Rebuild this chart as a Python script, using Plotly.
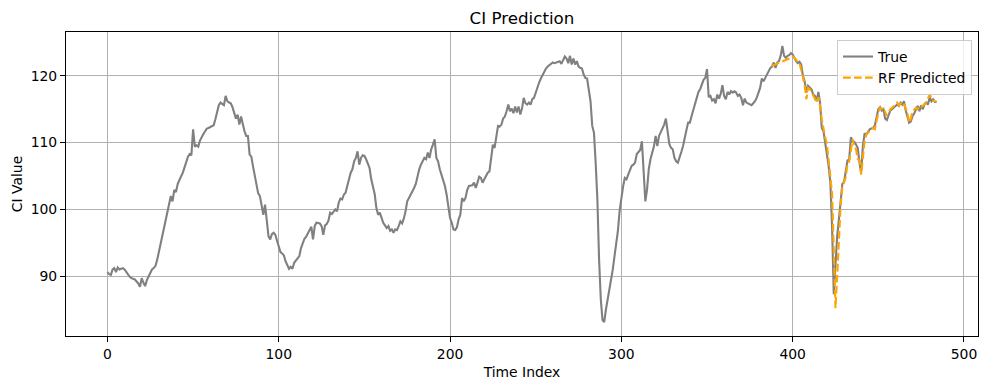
import plotly.graph_objects as go

# ---- data ----
true_values = [
    90.6, 90.3, 90.2, 91.0, 91.2, 90.6, 91.3, 91.0, 91.1, 91.2,
    91.0, 90.6, 90.1, 89.9, 89.7, 89.6, 89.5, 89.2, 88.9, 88.4,
    89.7, 89.0, 88.5, 89.4, 89.9, 90.3, 91.0, 91.2, 91.5, 92.4,
    93.6, 94.6, 96.0, 97.2, 98.4, 99.3, 100.3, 102.0, 101.2, 102.9,
    102.6, 103.8, 104.4, 104.9, 105.5, 106.3, 107.2, 107.9, 108.3, 108.1,
    112.0, 109.4, 109.6, 109.4, 110.3, 110.9, 111.3, 111.7, 112.1, 112.2,
    112.3, 112.4, 112.6, 113.5, 114.8, 115.6, 116.0, 115.8, 115.6, 117.0,
    116.2, 116.0, 115.9, 115.3, 114.4, 113.6, 114.2, 112.7, 113.9, 112.5,
    111.7, 111.0, 111.0, 108.2, 107.9, 106.4, 105.0, 103.7, 102.4, 102.0,
    100.7, 99.2, 100.7, 97.9, 96.0, 95.5, 96.3, 96.5, 96.2, 95.3,
    94.3, 93.6, 93.4, 93.1, 92.2, 91.5, 91.1, 91.4, 91.1, 92.0,
    92.4, 92.7, 93.0, 94.2, 95.0, 95.6, 95.9, 96.4, 97.0, 97.4,
    95.5, 97.5, 98.0, 97.9, 97.9, 97.5, 96.2, 97.6, 97.8, 98.3,
    99.5, 99.3, 99.6, 100.0, 99.7, 101.0, 101.6, 101.5, 102.2, 102.5,
    103.5, 104.5, 105.5, 106.0, 107.2, 107.7, 108.7, 106.7, 107.7, 108.1,
    108.0, 107.5, 106.8, 106.2, 104.5, 103.5, 102.3, 100.2, 99.2, 99.5,
    98.7, 98.0, 97.6, 97.2, 97.5, 96.8, 97.0, 96.5, 97.0, 96.9,
    97.5, 98.2, 97.9, 98.6, 99.7, 101.2, 101.7, 102.2, 102.5, 103.2,
    103.8, 105.0, 106.0, 106.7, 107.2, 107.7, 107.5, 108.5, 107.7, 109.0,
    109.7, 110.5, 107.7, 107.2, 106.0, 105.2, 104.2, 103.5, 102.2, 100.5,
    98.7, 98.0, 97.0, 96.9, 97.3, 98.5, 99.2, 101.7, 101.2, 101.7,
    102.9, 103.5, 103.5, 103.6, 104.0, 103.2, 104.0, 104.9, 104.7, 104.0,
    104.5, 105.0, 105.5, 105.7, 107.7, 109.7, 109.2, 111.0, 112.5, 112.4,
    112.7, 113.6, 113.9, 114.7, 115.7, 114.7, 115.1, 114.4, 115.4, 114.5,
    115.4, 114.2, 115.1, 116.7, 115.9, 115.7, 116.0, 115.7, 116.5, 116.7,
    117.5, 118.5, 119.0, 119.6, 120.1, 120.7, 121.1, 121.4, 121.6, 121.7,
    122.0, 121.9, 122.0, 122.0, 122.2, 121.8, 122.5, 122.9, 122.6, 121.9,
    123.0, 121.7, 122.6, 121.7, 122.2, 121.4, 121.2, 121.1, 120.2, 119.7,
    119.6, 117.5, 116.2, 112.5, 111.5, 107.0, 101.5, 92.5, 86.5, 83.4,
    83.1, 85.0, 86.4, 88.0, 89.0, 91.0, 93.0, 95.0, 96.8, 99.8,
    102.0, 103.4, 104.7, 104.5, 105.2, 106.0, 106.5, 106.7, 107.0, 108.3,
    108.7, 108.9, 110.2, 106.5, 101.2, 103.0, 106.0, 107.5, 108.5, 109.4,
    111.0, 109.5, 111.0, 111.6, 112.0, 112.7, 113.6, 111.8, 109.8, 109.2,
    109.0, 107.7, 107.2, 107.0, 108.0, 108.6, 109.5, 111.0, 111.9, 113.0,
    113.0, 114.0, 114.9, 115.6, 116.5, 117.6, 118.0, 118.8, 119.4, 119.7,
    121.0, 116.8, 117.0, 116.3, 116.5, 115.9, 117.2, 116.6, 117.3, 118.6,
    117.0, 116.5, 117.6, 117.2, 117.7, 117.5, 117.7, 117.5, 117.0, 117.2,
    116.7, 115.6, 116.6, 116.0, 115.9, 115.7, 115.6, 115.9, 116.2, 116.7,
    117.5, 118.2, 119.6, 119.2, 119.7, 120.2, 120.5, 121.2, 121.4, 122.0,
    121.2, 122.0, 122.2, 123.0, 124.5, 123.0, 122.7, 123.0, 123.1, 123.4,
    123.2, 122.6, 122.2, 121.9, 122.1, 121.7, 120.0, 119.2, 117.5, 118.5,
    118.2, 118.0, 117.2, 117.0, 116.2, 117.6, 116.0, 112.2, 111.7, 110.0,
    108.5, 106.5, 104.0, 97.5, 87.3, 92.0, 96.0, 98.5, 101.5, 103.8,
    104.1, 105.5, 107.3, 107.5, 110.8, 110.2, 110.1, 109.7, 109.2, 107.0,
    105.5, 109.5, 111.4, 111.2, 111.7, 112.0, 112.1, 112.2, 112.6, 113.8,
    115.0, 115.3, 114.8, 115.0, 113.6, 113.4, 114.2, 114.8, 115.0, 115.2,
    115.4, 115.7, 115.5, 116.0, 115.7, 116.2, 114.8, 113.8, 113.0, 113.2,
    114.0, 114.4, 115.0, 115.5, 114.7, 115.6, 115.0, 115.8, 116.0, 115.7,
    116.8, 116.2, 116.5, 116.1, 116.1,
]
time_index = list(range(len(true_values)))

pred_start = 388
rf_predicted = [
    121.5, 121.6,
    121.7, 121.8, 121.9, 122.0, 122.2, 122.3, 122.4, 122.5, 122.6, 122.8,
    122.9, 122.7, 122.3, 122.1, 121.9, 121.0, 119.8, 118.6, 116.5, 118.2,
    118.0, 117.6, 117.1, 116.5, 116.0, 116.8, 115.5, 113.5, 111.8, 110.8,
    109.8, 107.5, 105.0, 102.5, 94.0, 85.2, 90.0, 96.5, 100.5, 103.3,
    104.0, 104.8, 106.8, 107.2, 108.8, 110.5, 109.3, 109.0, 107.5, 107.4,
    105.2, 107.5, 110.2, 111.2, 111.5, 111.7, 112.0, 112.2, 112.0, 113.2,
    114.5, 115.2, 115.0, 115.2, 114.7, 114.0, 114.5, 115.0, 115.2, 115.5,
    115.8, 116.0, 115.6, 115.9, 116.1, 115.7, 115.2, 114.5, 113.0, 113.6,
    114.7, 115.0, 115.2, 115.0, 115.5, 115.4, 115.5, 115.7, 116.0, 116.5,
    117.2, 116.7, 116.3, 116.2, 116.2,
]
pred_index = list(range(pred_start, pred_start + len(rf_predicted)))

x_ticks = [0, 100, 200, 300, 400, 500]
y_ticks = [90, 100, 110, 120]

# matplotlib-style 5% autoscale margins
x_lo, x_hi = 0, max(time_index)
x_pad = 0.05 * (x_hi - x_lo)
all_y = true_values + rf_predicted
y_lo, y_hi = min(all_y), max(all_y)
y_pad = 0.05 * (y_hi - y_lo)

FONT = "DejaVu Sans"

fig = go.Figure()
fig.add_trace(go.Scatter(
    x=time_index, y=true_values, mode="lines", name="True",
    line=dict(color="#808080", width=2.1),
))
fig.add_trace(go.Scatter(
    x=pred_index, y=rf_predicted, mode="lines", name="RF Predicted",
    line=dict(color="#FFA500", width=2.1, dash="7.7px,3.3px"),
))

axis_common = dict(
    showgrid=True, gridcolor="#b0b0b0", gridwidth=1,
    showline=True, linecolor="black", linewidth=1.1, mirror=True,
    ticks="outside", ticklen=5, tickwidth=1.1, tickcolor="black",
    zeroline=False, automargin=False,
    tickfont=dict(family=FONT, size=13.9, color="black"),
)

fig.update_layout(
    width=988, height=390,
    margin=dict(l=66, r=10, t=32, b=54),
    paper_bgcolor="white", plot_bgcolor="white",
    font=dict(family=FONT, size=13.9, color="black"),
    title=dict(
        text="CI Prediction", x=0.5, xref="paper", xanchor="center",
        y=1 - 18 / 390, yref="container", yanchor="middle",
        font=dict(family=FONT, size=16.7, color="black"),
    ),
    xaxis=dict(
        range=[x_lo - x_pad, x_hi + x_pad], tickvals=x_ticks,
        title=dict(text="Time Index", standoff=6,
                   font=dict(family=FONT, size=13.9, color="black")),
        **axis_common,
    ),
    yaxis=dict(
        range=[y_lo - y_pad, y_hi + y_pad], tickvals=y_ticks,
        title=dict(text="CI Value", standoff=4,
                   font=dict(family=FONT, size=13.9, color="black")),
        **axis_common,
    ),
    legend=dict(
        x=1 - 6 / 912, xanchor="right", y=1 - 8 / 304, yanchor="top",
        bgcolor="rgba(255,255,255,0.8)", bordercolor="#cccccc", borderwidth=1,
        font=dict(family=FONT, size=13.9, color="black"),
        tracegroupgap=0, itemwidth=30,
    ),
    showlegend=True,
)

fig.write_html(
    "out.html",
    config={"displayModeBar": False},
    post_script="document.body.style.margin='0';",
)
